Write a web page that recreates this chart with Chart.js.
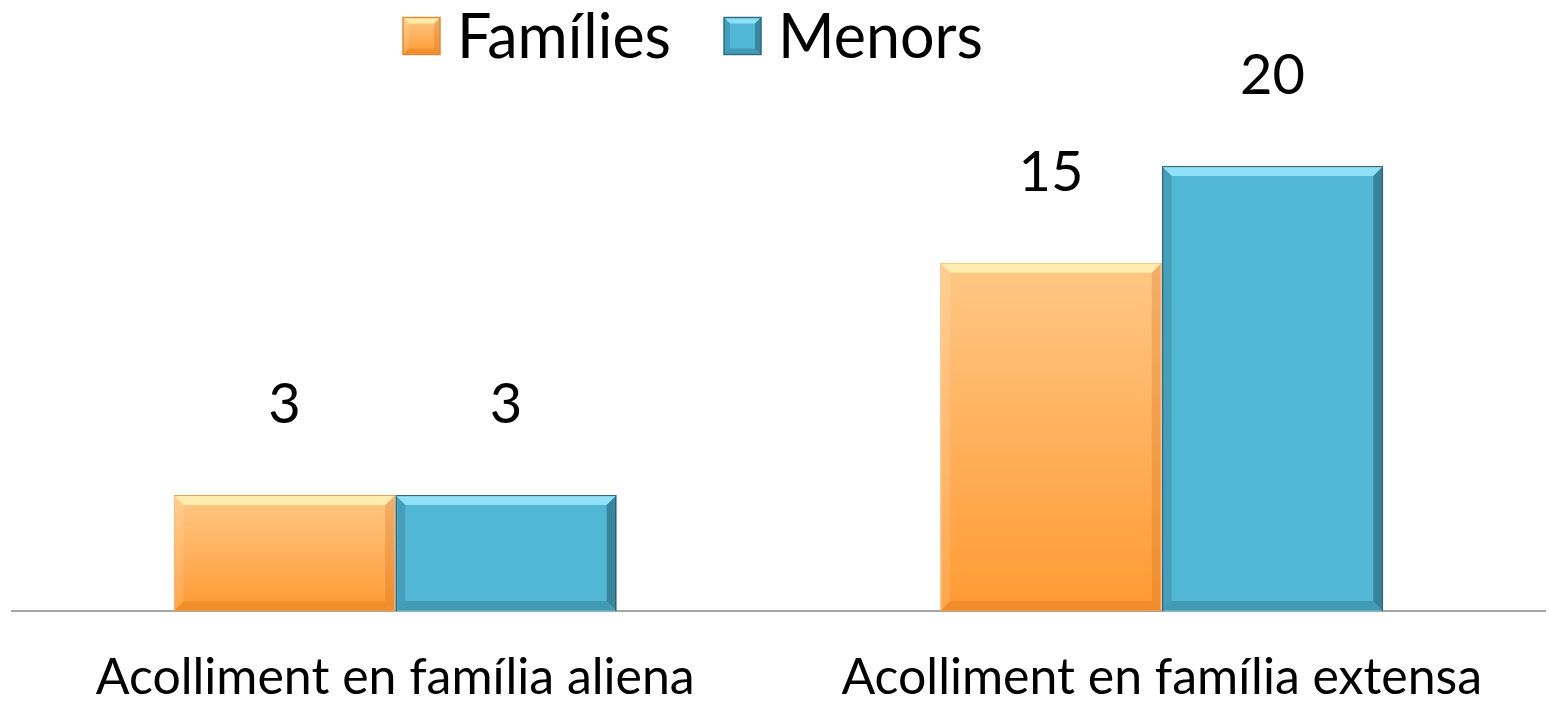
<!DOCTYPE html>
<html>
<head>
<meta charset="utf-8">
<script src="https://cdn.jsdelivr.net/npm/chart.js@4.4.1/dist/chart.umd.min.js"></script>
<style>
  html, body { margin: 0; padding: 0; background: #ffffff; }
  #wrap { width: 1550px; height: 702px; }
</style>
</head>
<body>
<div id="wrap"><canvas id="accChart" width="1550" height="702"></canvas></div>
<script>
const categories = ['Acolliment en família aliena', 'Acolliment en família extensa'];
const seriesNames = ['Famílies', 'Menors'];
const familiesValues = [3, 15];
const menorsValues = [3, 20];
// the original value axis runs from -3 and bars grow from that floor
const axisMin = -3;
const axisMax = 20;

const FONT = 'Lato, "Open Sans", sans-serif';
const orangeTop = '#ffc886';
const orangeBottom = '#ff9a33';
const blueFill = '#52b6d5';
const blueBorder = '#2f6d80';

function orangeGradient(ctx) {
    const chart = ctx.chart;
    const area = chart.chartArea;
    if (!area) return orangeBottom;
    const y = chart.scales.y;
    const top = y.getPixelForValue(ctx.raw);
    const bottom = y.getPixelForValue(axisMin);
    const g = chart.ctx.createLinearGradient(0, top, 0, bottom);
    g.addColorStop(0, orangeTop);
    g.addColorStop(1, orangeBottom);
    return g;
}

function drawBevel(c, l, t, r, b, s, shades) {
    c.fillStyle = shades.top;
    c.beginPath(); c.moveTo(l, t); c.lineTo(r, t); c.lineTo(r - s, t + s); c.lineTo(l + s, t + s); c.closePath(); c.fill();
    c.fillStyle = shades.left;
    c.beginPath(); c.moveTo(l, t); c.lineTo(l + s, t + s); c.lineTo(l + s, b - s); c.lineTo(l, b); c.closePath(); c.fill();
    c.fillStyle = shades.right;
    c.beginPath(); c.moveTo(r, t); c.lineTo(r, b); c.lineTo(r - s, b - s); c.lineTo(r - s, t + s); c.closePath(); c.fill();
    c.fillStyle = shades.bottom;
    c.beginPath(); c.moveTo(l, b); c.lineTo(l + s, b - s); c.lineTo(r - s, b - s); c.lineTo(r, b); c.closePath(); c.fill();
}

const bevelShades = [
    { top: 'rgba(255,250,190,0.75)', left: 'rgba(255,255,255,0.12)', right: 'rgba(200,100,20,0.25)', bottom: 'rgba(210,110,20,0.3)' },
    { top: 'rgba(160,235,255,0.8)', left: 'rgba(20,70,90,0.2)', right: 'rgba(20,70,90,0.45)', bottom: 'rgba(30,90,110,0.3)' }
];

const bevelPlugin = {
    id: 'bevel',
    afterDatasetsDraw(chart) {
        const c = chart.ctx;
        chart.data.datasets.forEach(function (ds, i) {
            chart.getDatasetMeta(i).data.forEach(function (bar) {
                const l = bar.x - bar.width / 2;
                const r = bar.x + bar.width / 2;
                c.save();
                drawBevel(c, l + 1, bar.y + 1, r - 1, bar.base - 1, 9, bevelShades[i]);
                c.restore();
            });
        });
    }
};

const valueLabels = {
    id: 'valueLabels',
    afterDatasetsDraw(chart) {
        const c = chart.ctx;
        c.save();
        c.font = '56px ' + FONT;
        c.fillStyle = '#000000';
        c.textAlign = 'center';
        c.textBaseline = 'middle';
        chart.data.datasets.forEach(function (ds, i) {
            chart.getDatasetMeta(i).data.forEach(function (bar, j) {
                c.fillText(String(ds.data[j]), bar.x, bar.y - 90);
            });
        });
        c.restore();
    }
};

const topLegend = {
    id: 'topLegend',
    afterDraw(chart) {
        const c = chart.ctx;
        c.save();
        c.font = '61px ' + FONT;
        c.textBaseline = 'middle';
        c.textAlign = 'left';
        const box = 37, gap = 17, itemGap = 53;
        const widths = seriesNames.map(function (n) { return box + gap + c.measureText(n).width; });
        const total = widths.reduce(function (a, b) { return a + b; }, 0) + itemGap * (seriesNames.length - 1);
        let x = 693 - total / 2;
        const cy = 36;
        seriesNames.forEach(function (name, i) {
            const t = cy - box / 2;
            if (i === 0) {
                const g = c.createLinearGradient(0, t, 0, t + box);
                g.addColorStop(0, orangeTop);
                g.addColorStop(1, orangeBottom);
                c.fillStyle = g;
            } else {
                c.fillStyle = blueFill;
            }
            c.fillRect(x, t, box, box);
            drawBevel(c, x, t, x + box, t + box, 6, bevelShades[i]);
            c.strokeStyle = i === 0 ? '#e08a35' : blueBorder;
            c.lineWidth = 1.5;
            c.strokeRect(x, t, box, box);
            c.fillStyle = '#000000';
            c.fillText(name, x + box + gap, cy + 2);
            x += widths[i] + itemGap;
        });
        c.restore();
    }
};

new Chart(document.getElementById('accChart'), {
    type: 'bar',
    data: {
        labels: categories,
        datasets: [{
            label: seriesNames[0],
            data: familiesValues,
            base: axisMin,
            backgroundColor: orangeGradient,
            borderColor: '#f0a050',
            borderWidth: 1
        }, {
            label: seriesNames[1],
            data: menorsValues,
            base: axisMin,
            backgroundColor: blueFill,
            borderColor: blueBorder,
            borderWidth: 2
        }]
    },
    options: {
        responsive: false,
        animation: false,
        layout: { padding: { top: 166, left: 12, right: 5, bottom: -43 } },
        datasets: { bar: { categoryPercentage: 0.578, barPercentage: 1 } },
        plugins: { legend: { display: false }, tooltip: { enabled: false } },
        scales: {
            x: {
                grid: { display: false, drawTicks: false },
                border: { display: true, color: '#a6a6a6', width: 2 },
                ticks: { color: '#000000', padding: 42, font: { family: FONT, size: 50, lineHeight: 1 } }
            },
            y: { display: false, min: axisMin, max: axisMax }
        }
    },
    plugins: [bevelPlugin, valueLabels, topLegend]
});
</script>
</body>
</html>
